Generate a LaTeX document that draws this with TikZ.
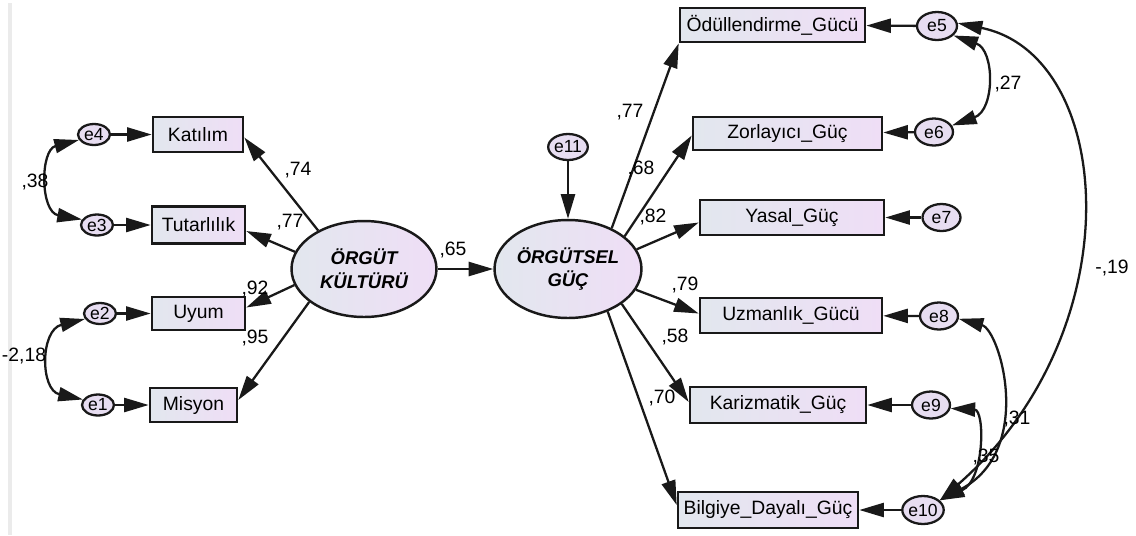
\documentclass[tikz,border=0pt]{standalone}
\usepackage{fontspec}
\setmainfont{Liberation Sans}
\usetikzlibrary{arrows.meta,calc,shapes.geometric}
\definecolor{boxL}{RGB}{226,231,238}
\definecolor{boxR}{RGB}{239,222,246}
\definecolor{efill}{RGB}{231,221,241}
\definecolor{edge}{RGB}{25,25,25}
\begin{document}
\begin{tikzpicture}[x=0.02cm,y=-0.02cm,
  every node/.style={font=\fontsize{11}{13}\selectfont},
  obs/.style={draw=edge, line width=1.5pt, left color=boxL, right color=boxR, inner sep=0pt},
  lat/.style={ellipse, draw=edge, line width=1.4pt, left color=boxL, right color=boxR,
    font=\fontsize{10.5}{13.5}\selectfont\bfseries\itshape, align=center, inner sep=0pt},
  err/.style={ellipse, draw=edge, line width=1.3pt, fill=efill, inner sep=0pt,
    font=\fontsize{10}{11}\selectfont},
  errl/.style={err, minimum width=0.64cm, minimum height=0.42cm},
  errr/.style={err, minimum width=0.76cm, minimum height=0.54cm},
  arr/.style={line width=1.3pt, draw=edge, -{Triangle[length=14pt,width=8pt]}},
  cov/.style={line width=1.3pt, draw=edge, {Triangle[length=14pt,width=8pt]}-{Triangle[length=14pt,width=8pt]}},
  lbl/.style={inner sep=0pt}
]
\useasboundingbox (0,0) rectangle (1136,535);
\fill[black!8] (8,3) rectangle (12,535);

% left observed
\node[obs, minimum width=1.8cm, minimum height=0.7cm] (kat) at (198,134.5) {Katılım};
\node[obs, minimum width=1.86cm, minimum height=0.74cm] (tut) at (198.5,225) {Tutarlılık};
\node[obs, minimum width=1.86cm, minimum height=0.66cm] (uyum) at (198.5,313.5) {Uyum};
\node[obs, minimum width=1.74cm, minimum height=0.68cm] (mis) at (193.5,405) {Misyon};

\node[errl] (e4) at (94,134.5) {e4};
\node[errl] (e3) at (97,225) {e3};
\node[errl] (e2) at (100,313.5) {e2};
\node[errl] (e1) at (98,405) {e1};

% latent
\node[lat, minimum width=2.9cm, minimum height=1.92cm] (ok) at (364,269) {ÖRGÜT\\KÜLTÜRÜ};
\node[lat, minimum width=2.94cm, minimum height=1.96cm] (og) at (568,269) {ÖRGÜTSEL\\GÜÇ};
\node[err, minimum width=0.56cm, minimum height=0.52cm] (e11) at (568,147) {e11};

% right observed
\node[obs, minimum width=3.7cm, minimum height=0.68cm] (odul) at (772.5,25) {Ödüllendirme\_Gücü};
\node[obs, minimum width=3.78cm, minimum height=0.66cm] (zor) at (787.5,133.5) {Zorlayıcı\_Güç};
\node[obs, minimum width=3.68cm, minimum height=0.7cm] (yas) at (792,217.5) {Yasal\_Güç};
\node[obs, minimum width=3.64cm, minimum height=0.7cm] (uzm) at (791,315.5) {Uzmanlık\_Gücü};
\node[obs, minimum width=3.52cm, minimum height=0.72cm] (kar) at (778,405) {Karizmatik\_Güç};
\node[obs, minimum width=3.6cm, minimum height=0.72cm] (bil) at (768,510) {Bilgiye\_Dayalı\_Güç};

\node[err, minimum width=0.8cm, minimum height=0.56cm] (e5) at (937,26) {e5};
\node[errr] (e6) at (934,132) {e6};
\node[errr] (e7) at (941.5,217.5) {e7};
\node[errr] (e8) at (939,316) {e8};
\node[errr] (e9) at (931,405) {e9};
\node[err, minimum width=0.74cm, minimum height=0.56cm] (e10) at (923,510) {e10};

% error arrows
\draw[arr] (e4) -- (kat);
\draw[arr] (e3) -- (tut);
\draw[arr] (e2) -- (uyum);
\draw[arr] (e1) -- (mis);
\draw[arr] (e5) -- (odul);
\draw[arr] (e6) -- (zor);
\draw[arr] (e7) -- (yas);
\draw[arr] (e8) -- (uzm);
\draw[arr] (e9) -- (kar);
\draw[arr] (e10) -- (bil);
\draw[arr] (e11) -- (og);

% loadings
\draw[arr] (ok.140) -- ($(kat.east)+(0,3)$);
\draw[arr] (ok.166) -- ($(tut.east)+(0,6)$);
\draw[arr] (ok.193) -- ($(uyum.east)+(0,-6)$);
\draw[arr] (ok.211) -- ($(mis.east)+(0,-5)$);
\draw[arr] (ok) -- (og);
\draw[arr] (og.43) -- (odul.south west);
\draw[arr] (og.30) -- ($(zor.west)+(0,2)$);
\draw[arr] (og.16) -- ($(yas.west)+(0,5)$);
\draw[arr] (og.-17) -- ($(uzm.west)+(0,-2)$);
\draw[arr] (og.-33) -- ($(kar.west)+(0,-3)$);
\draw[arr] (og.-47) -- ($(bil.west)+(0,-5)$);

% covariances
\draw[cov] (e4.200) .. controls (40,150) and (40,212) .. (e3.160);
\draw[cov] (e2.200) .. controls (40,330) and (40,390) .. (e1.160);
\draw[cov] (e5.-30) .. controls (995,50) and (995,110) .. (e6.20);
\draw[cov] (e5.8) .. controls (1115,55) and (1135,330) .. (e10.30);
\draw[cov] (e8.-8) .. controls (1000,330) and (1035,450) .. (e10.30);
\draw[cov] (e9.-10) .. controls (985,410) and (985,480) .. (e10.30);

% labels
\node[lbl] (l74) at (298,170) {,74};
\node[lbl] (l77a) at (290,222) {,77};
\node[lbl] (l92) at (255,289) {,92};
\node[lbl] (l95) at (255,338) {,95};
\node[lbl] (l38) at (35,182) {,38};
\node[lbl] (l218) at (24,356) {-2,18};
\node[lbl] (l65) at (453,250) {,65};
\node[lbl] (l77b) at (630,112) {,77};
\node[lbl] (l68) at (641,169) {,68};
\node[lbl] (l82) at (653,217) {,82};
\node[lbl] (l79) at (685,285) {,79};
\node[lbl] (l58) at (675,337) {,58};
\node[lbl] (l70) at (662,398) {,70};
\node[lbl] (l27) at (1008,84) {,27};
\node[lbl] (l19) at (1112,268) {-,19};
\node[lbl] (l31) at (1017,419) {,31};
\node[lbl] (l35) at (986,457) {,35};
\end{tikzpicture}
\end{document}
